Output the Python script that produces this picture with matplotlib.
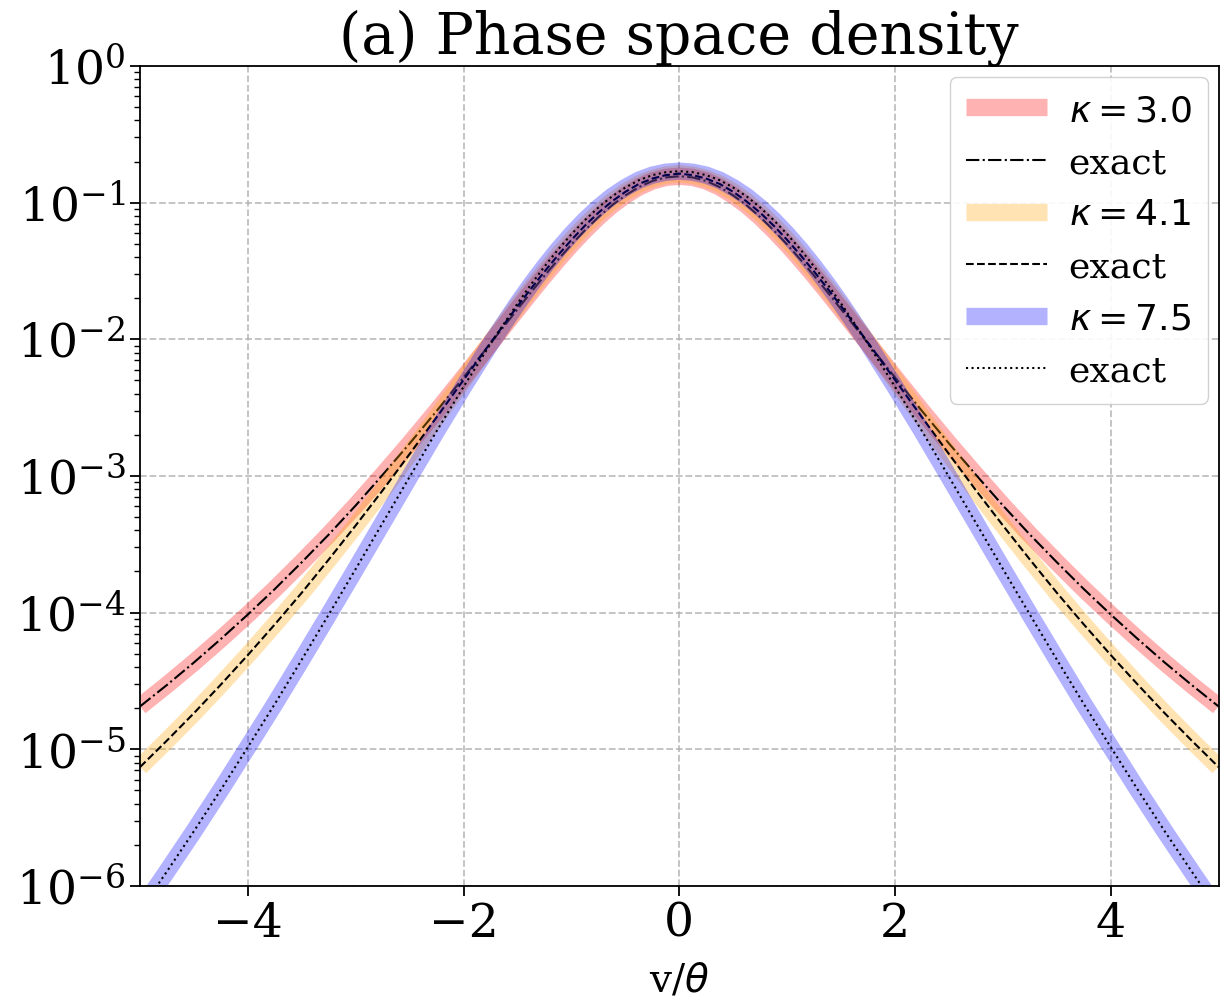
# -*- coding: utf-8 -*-
"""Phase space density of kappa distributions, log scale, three kappas + exact curves."""
import matplotlib
matplotlib.use("Agg")
import matplotlib.pyplot as plt

plt.rcParams.update({
    "font.family": "serif", "font.serif": ["DejaVu Serif"],
    "mathtext.fontset": "dejavusans",
})

# velocity grid v/theta (denser near the peak)
v = [-5.0, -4.75, -4.5, -4.25, -4.0, -3.75, -3.5, -3.25, -3.0, -2.75, -2.5,
     -2.25, -2.0, -1.75, -1.5, -1.375, -1.25, -1.125, -1.0, -0.875, -0.75,
     -0.625, -0.5, -0.375, -0.25, -0.125, 0.0,
     0.125, 0.25, 0.375, 0.5, 0.625, 0.75, 0.875, 1.0, 1.125, 1.25,
     1.375, 1.5, 1.75, 2.0, 2.25, 2.5, 2.75, 3.0, 3.25, 3.5,
     3.75, 4.0, 4.25, 4.5, 4.75, 5.0]

f_k30 = [2.06e-5, 2.96e-5, 4.32e-5, 6.42e-5, 9.70e-5, 1.49e-4, 2.34e-4, 3.73e-4, 6.09e-4, 1.02e-3, 1.73e-3,
         2.99e-3, 5.26e-3, 9.35e-3, 0.0166, 0.0221, 0.0292, 0.0382, 0.0494, 0.0628, 0.0784,
         0.0956, 0.113, 0.130, 0.144, 0.153, 0.156,
         0.153, 0.144, 0.130, 0.113, 0.0956, 0.0784, 0.0628, 0.0494, 0.0382, 0.0292,
         0.0221, 0.0166, 9.35e-3, 5.26e-3, 2.99e-3, 1.73e-3, 1.02e-3, 6.09e-4, 3.73e-4, 2.34e-4,
         1.49e-4, 9.70e-5, 6.42e-5, 4.32e-5, 2.96e-5, 2.06e-5]

f_k41 = [7.42e-6, 1.16e-5, 1.84e-5, 2.98e-5, 4.90e-5, 8.21e-5, 1.40e-4, 2.45e-4, 4.35e-4, 7.86e-4, 1.45e-3,
         2.69e-3, 5.05e-3, 9.45e-3, 0.0175, 0.0235, 0.0313, 0.0412, 0.0534, 0.0679, 0.0844,
         0.102, 0.120, 0.137, 0.150, 0.159, 0.163,
         0.159, 0.150, 0.137, 0.120, 0.102, 0.0844, 0.0679, 0.0534, 0.0412, 0.0313,
         0.0235, 0.0175, 9.45e-3, 5.05e-3, 2.69e-3, 1.45e-3, 7.86e-4, 4.35e-4, 2.45e-4, 1.40e-4,
         8.21e-5, 4.90e-5, 2.98e-5, 1.84e-5, 1.16e-5, 7.42e-6]

f_k75 = [6.59e-7, 1.28e-6, 2.52e-6, 5.07e-6, 1.04e-5, 2.15e-5, 4.54e-5, 9.70e-5, 2.09e-4, 4.54e-4, 9.86e-4,
         2.13e-3, 4.50e-3, 9.28e-3, 0.0183, 0.0252, 0.0341, 0.0453, 0.0588, 0.0746, 0.0922,
         0.111, 0.129, 0.146, 0.159, 0.167, 0.170,
         0.167, 0.159, 0.146, 0.129, 0.111, 0.0922, 0.0746, 0.0588, 0.0453, 0.0341,
         0.0252, 0.0183, 9.28e-3, 4.50e-3, 2.13e-3, 9.86e-4, 4.54e-4, 2.09e-4, 9.70e-5, 4.54e-5,
         2.15e-5, 1.04e-5, 5.07e-6, 2.52e-6, 1.28e-6, 6.59e-7]

kappas = ["3.0", "4.1", "7.5"]
series = [f_k30, f_k41, f_k75]
colors = ["red", "orange", "blue"]
styles = ["-.", "--", ":"]

fig = plt.figure(figsize=(12.2, 10.03), dpi=100)
ax = fig.add_axes([0.1148, 0.1157, 0.884, 0.8175])

for k, f, c, ls in zip(kappas, series, colors, styles):
    ax.plot(v, f, color=c, alpha=0.3, lw=12.5, solid_capstyle="butt", label=rf"$\kappa = {k}$")
    ax.plot(v, f, color="k", ls=ls, lw=1.5, label="exact")

ax.set_yscale("log")
ax.set_xlim(-5, 5)
ax.set_ylim(1e-6, 1e0)
ax.set_xticks([-4, -2, 0, 2, 4])
ax.grid(True, ls="--", lw=1.3, color="#b0b0b0", alpha=0.8)
ax.tick_params(axis="both", labelsize=34, length=7, width=1.3)
ax.tick_params(axis="y", which="minor", length=4, width=1.0)
for s in ax.spines.values():
    s.set_linewidth(1.3)

ax.set_xlabel(r"v/$\theta$", fontsize=28, labelpad=11)
ax.set_title("(a) Phase space density", fontsize=41, pad=6)
ax.legend(loc="upper right", fontsize=26, handlelength=2.25, handletextpad=0.6,
          labelspacing=0.5, borderpad=0.45, borderaxespad=0.3, framealpha=0.9)

fig.savefig("out.png", dpi=100)
